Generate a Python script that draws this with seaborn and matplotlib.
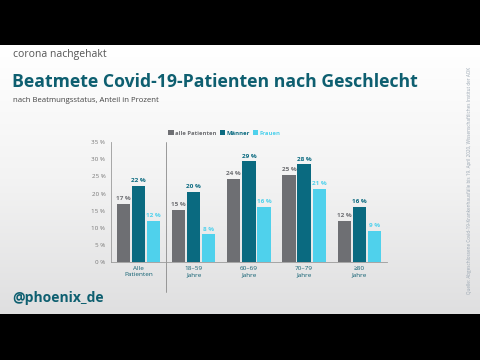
import numpy as np
import pandas as pd
import matplotlib
matplotlib.use("Agg")
import matplotlib.pyplot as plt
import seaborn as sns

# data
groups = ["Alle\nPatienten", "18–59\nJahre", "60–69\nJahre", "70–79\nJahre", "≥80\nJahre"]
series = ["alle Patienten", "Männer", "Frauen"]
alle = [17.1, 15.2, 24.4, 25.4, 12.0]
maenner = [22.3, 20.5, 29.4, 28.5, 16.2]
frauen = [12.0, 8.1, 16.1, 21.3, 9.0]
yticks = [0, 5, 10, 15, 20, 25, 30, 35]

colors = ["#6e6f73", "#0a6a80", "#4fd1ec"]
teal = "#0e5f70"

df = pd.DataFrame({
    "gruppe": groups * 3,
    "serie": [s for s in series for _ in groups],
    "wert": alle + maenner + frauen,
})

sns.set_theme(style="white")
plt.rcParams["font.family"] = ["Open Sans", "DejaVu Sans"]

fig = plt.figure(figsize=(4.8, 3.6), dpi=100, facecolor="black")

# content panel with soft vertical gradient
bg = fig.add_axes([0, 0.128, 1, 0.747])
grad = np.linspace(1, 0, 256).reshape(-1, 1)
bg.imshow(grad, aspect="auto", cmap=matplotlib.colors.LinearSegmentedColormap.from_list(
    "g", ["#dfdfe0", "#f3f3f3", "#ffffff"]), extent=[0, 1, 0, 1])
bg.set_axis_off()

ax = fig.add_axes([0.231, 0.272, 0.575, 0.333])
ax.patch.set_alpha(0)
sns.barplot(data=df, x="gruppe", y="wert", hue="serie", palette=colors, saturation=1,
            width=0.82, gap=0.12, linewidth=0, ax=ax, legend=True)

for cont, col in zip(ax.containers, colors):
    labels = [f"{round(v.get_height()):d} %" for v in cont]
    ax.bar_label(cont, labels=labels, color=col, fontsize=4.6, padding=2, fontweight="bold")

ax.set_ylim(0, 35)
ax.set_yticks(yticks)
ax.set_yticklabels([f"{t} %" for t in yticks], fontsize=4.5, color="#777777")
ax.tick_params(axis="x", labelsize=4.6, labelcolor=teal, length=0, pad=3)
ax.tick_params(axis="y", length=2, width=0.5, color="#999999", pad=2)
ax.set_xlabel("")
ax.set_ylabel("")
for s in ["top", "right"]:
    ax.spines[s].set_visible(False)
for s in ["left", "bottom"]:
    ax.spines[s].set_color("#9a9a9a")
    ax.spines[s].set_linewidth(0.6)
ax.axvline(0.5, ymin=-0.25, ymax=1.0, color="#8a8a8a", lw=0.6, clip_on=False)

leg = ax.legend(loc="center", bbox_to_anchor=(0.468, 0.631), bbox_transform=fig.transFigure,
                ncol=3, frameon=False, fontsize=4.2, handlelength=0.9, handleheight=0.9,
                handletextpad=0.3, columnspacing=0.5)
for txt, col in zip(leg.get_texts(), colors):
    txt.set_color(col)
    txt.set_fontweight("bold")

fig.text(0.027, 0.848, "corona nachgehakt", fontsize=7.5, color="#555555", va="center")
fig.text(0.025, 0.773, "Beatmete Covid-19-Patienten nach Geschlecht", fontsize=12.7,
         color=teal, fontweight="bold", va="center")
fig.text(0.027, 0.722, "nach Beatmungsstatus, Anteil in Prozent", fontsize=5.6,
         color="#444444", va="center")
fig.text(0.025, 0.172, "@phoenix_de", fontsize=10, color=teal, fontweight="bold", va="center")
fig.text(0.978, 0.5, "Quelle: Abgeschlossene Covid-19-Krankenhausfälle bis 19. April 2020, "
         "Wissenschaftliches Institut der AOK", rotation=90, fontsize=3.3, color="#9aa6b2",
         ha="center", va="center")

fig.savefig("out.png", dpi=100, facecolor="black")
